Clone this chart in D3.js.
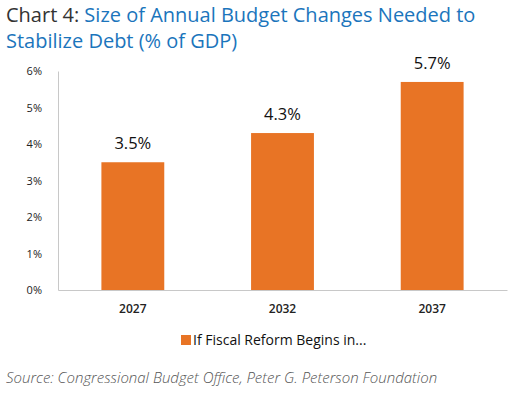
<html>
<script src="https://d3js.org/d3.v7.min.js"></script>
<style>
body { margin: 0; background: #fff; }
text { font-family: "Open Sans", sans-serif; }
</style>
<body>
<svg width="522" height="394" id="chart"></svg>
<script>
var years = ["2027", "2032", "2037"];
var changes = [3.5, 4.3, 5.7];
var yTicks = [0, 1, 2, 3, 4, 5, 6];
var legendLabel = "If Fiscal Reform Begins in...";

var svg = d3.select("#chart");
var orange = "#e87425";

// title
var title = svg.append("text").attr("x", 6).attr("y", 22)
    .style("font-size", "20px");
title.append("tspan").attr("fill", "#333").text("Chart 4: ");
title.append("tspan").attr("fill", "#1b75bc").text("Size of Annual Budget Changes Needed to");
svg.append("text").attr("x", 6).attr("y", 48)
    .style("font-size", "20px").attr("fill", "#1b75bc")
    .text("Stabilize Debt (% of GDP)");

var x = d3.scaleBand().domain(years).range([58, 507])
    .paddingInner(0.58).paddingOuter(0.29);
var y = d3.scaleLinear().domain([0, 6]).range([290, 71]);

// y axis
var ya = svg.append("g").attr("transform", "translate(58,0)")
    .call(d3.axisLeft(y).tickValues(yTicks).tickSize(0).tickPadding(16)
        .tickFormat(function(d) { return d + "%"; }));
ya.select(".domain").attr("stroke", "#c8c8c8");
ya.selectAll("text").style("font-size", "11px").attr("fill", "#222")
    .style("font-family", "Open Sans");

// bars
svg.selectAll("rect.bar").data(changes).enter().append("rect")
    .attr("class", "bar")
    .attr("x", function(d, i) { return x(years[i]); })
    .attr("y", function(d) { return y(d); })
    .attr("width", x.bandwidth())
    .attr("height", function(d) { return y(0) - y(d); })
    .attr("fill", orange);

// value labels
svg.selectAll("text.val").data(changes).enter().append("text")
    .attr("class", "val")
    .attr("x", function(d, i) { return x(years[i]) + x.bandwidth() / 2; })
    .attr("y", function(d) { return y(d) - 13; })
    .attr("text-anchor", "middle")
    .style("font-size", "16.5px").attr("fill", "#111")
    .text(function(d) { return d.toFixed(1) + "%"; });

// x axis
var xa = svg.append("g").attr("transform", "translate(0,290)")
    .call(d3.axisBottom(x).tickSize(0).tickPadding(14));
xa.select(".domain").attr("stroke", "#c8c8c8");
xa.selectAll("text").style("font-size", "12px").style("font-weight", "600")
    .attr("fill", "#222").style("font-family", "Open Sans");

// legend
svg.append("rect").attr("x", 181).attr("y", 335).attr("width", 10).attr("height", 10)
    .attr("fill", orange);
svg.append("text").attr("x", 193).attr("y", 345)
    .style("font-size", "14px").attr("fill", "#111").text(legendLabel);

// source
svg.append("text").attr("x", 6).attr("y", 383)
    .style("font-size", "15px").style("font-style", "italic").style("font-weight", "300")
    .attr("fill", "#555")
    .text("Source: Congressional Budget Office, Peter G. Peterson Foundation");
</script>
</body>
</html>
